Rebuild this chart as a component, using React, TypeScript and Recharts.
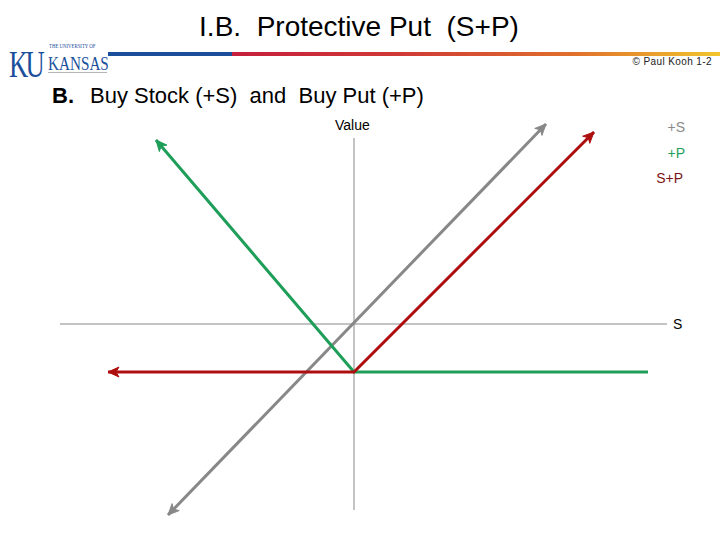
import React from "react";
import { LineChart, Line, XAxis, YAxis, ReferenceLine } from "recharts";

// Payoff lines (x = stock price relative to strike, y = value)
const stockLine = [
  { x: -18.6, y: -19.1 },
  { x: 19.2, y: 20.0 },
];
const putLine = [
  { x: -19.8, y: 18.4 },
  { x: 0, y: -4.8 },
  { x: 29.4, y: -4.8 },
];
const protectivePutLine = [
  { x: -24.6, y: -4.8 },
  { x: 0, y: -4.8 },
  { x: 24.0, y: 19.2 },
];
const axisX = [-29.4, 31.3];
const axisY = [-18.6, 18.6];

const GREY = "#888888";
const GREEN = "#1f9e5a";
const RED = "#ad0f0f";

const makeArrowDot = (series: { x: number; y: number }[], ends: number[], color: string) =>
  (props: any) => {
    const { cx, cy, index } = props;
    if (!ends.includes(index) || cx == null || cy == null) return <g key={`n-${index}`} />;
    const nb = index === 0 ? series[1] : series[index - 1];
    const cur = series[index];
    const dx = cur.x - nb.x;
    const dy = -(cur.y - nb.y);
    const len = Math.hypot(dx, dy) || 1;
    const ux = dx / len;
    const uy = dy / len;
    const L = 11;
    const W = 5;
    const bx = cx - ux * L;
    const by = cy - uy * L;
    const px = -uy;
    const py = ux;
    const nx = cx - ux * (L - 3);
    const ny = cy - uy * (L - 3);
    const pts = `${cx},${cy} ${bx + px * W},${by + py * W} ${nx},${ny} ${bx - px * W},${by - py * W}`;
    return <polygon key={`a-${index}`} points={pts} fill={color} stroke={color} strokeWidth={1} />;
  };

const txt = (style: React.CSSProperties): React.CSSProperties => ({
  position: "absolute",
  fontFamily: "'Liberation Sans', Arial, sans-serif",
  whiteSpace: "pre",
  lineHeight: 1,
  ...style,
});

export default function App() {
  return (
    <div style={{ position: "absolute", left: 0, top: 0, width: 720, height: 540, background: "#fff", overflow: "hidden" }}>
      {/* Title */}
      <div style={txt({ left: 0, width: 718, top: 13, textAlign: "center", fontSize: 28, color: "#000" })}>
        I.B.  Protective Put  (S+P)
      </div>
      {/* Logo */}
      <div style={{ position: "absolute", left: 9, top: 45, fontFamily: "'Liberation Serif', 'DejaVu Serif', serif", fontSize: 38, color: "#1b4f9c", lineHeight: 1, transform: "scaleX(0.7)", transformOrigin: "left top", letterSpacing: -4 }}>
        KU
      </div>
      <div style={{ position: "absolute", left: 49, top: 43, fontFamily: "'Liberation Serif', serif", fontSize: 6, color: "#1b4f9c", lineHeight: 1, whiteSpace: "pre", transform: "scaleX(0.8)", transformOrigin: "left top" }}>
        THE UNIVERSITY OF
      </div>
      <div style={{ position: "absolute", left: 48, top: 54, fontFamily: "'Liberation Serif', serif", fontSize: 19, color: "#1b4f9c", lineHeight: 1, transform: "scaleX(0.8)", transformOrigin: "left top" }}>
        KANSAS
      </div>
      <div style={{ position: "absolute", left: 48, top: 72, width: 59, height: 1, background: "#b5b5b5" }} />
      {/* Colour bar */}
      <div style={{ position: "absolute", left: 108, top: 52, width: 124, height: 4, background: "#1b4f9c" }} />
      <div style={{ position: "absolute", left: 232, top: 52, width: 488, height: 4, background: "linear-gradient(to right, #c51f3c 0%, #cf3a36 35%, #e0702c 70%, #f2c62c 100%)" }} />
      <div style={txt({ right: 8, top: 57, fontSize: 10, letterSpacing: 0.4, color: "#222" })}>© Paul Kooh 1-2</div>
      {/* Subtitle */}
      <div style={txt({ left: 52, top: 85, fontSize: 22, fontWeight: "bold", color: "#000" })}>B.</div>
      <div style={txt({ left: 90, top: 85, fontSize: 22, color: "#000" })}>Buy Stock (+S)  and  Buy Put (+P)</div>

      <div style={{ position: "absolute", left: 0, top: 0 }}>
        <LineChart width={720} height={540} margin={{ top: 0, right: 0, bottom: 0, left: 0 }}>
          <XAxis type="number" dataKey="x" domain={[-35.4, 36.6]} allowDataOverflow hide />
          <YAxis type="number" dataKey="y" domain={[-21.6, 32.4]} allowDataOverflow hide />
          <ReferenceLine
            segment={[{ x: axisX[0], y: 0 }, { x: axisX[1], y: 0 }]}
            stroke={GREY}
            strokeWidth={1}
            ifOverflow="visible"
          />
          <ReferenceLine
            segment={[{ x: 0, y: axisY[0] }, { x: 0, y: axisY[1] }]}
            stroke={GREY}
            strokeWidth={1}
            ifOverflow="visible"
          />
          <Line
            data={stockLine}
            dataKey="y"
            type="linear"
            stroke={GREY}
            strokeWidth={3}
            isAnimationActive={false}
            dot={makeArrowDot(stockLine, [0, stockLine.length - 1], GREY)}
            activeDot={false}
          />
          <Line
            data={putLine}
            dataKey="y"
            type="linear"
            stroke={GREEN}
            strokeWidth={3}
            isAnimationActive={false}
            dot={makeArrowDot(putLine, [0], GREEN)}
            activeDot={false}
          />
          <Line
            data={protectivePutLine}
            dataKey="y"
            type="linear"
            stroke={RED}
            strokeWidth={3}
            isAnimationActive={false}
            dot={makeArrowDot(protectivePutLine, [0, protectivePutLine.length - 1], RED)}
            activeDot={false}
          />
        </LineChart>
      </div>

      {/* Axis labels and legend */}
      <div style={txt({ left: 335, top: 118, fontSize: 14, color: "#000" })}>Value</div>
      <div style={txt({ left: 673, top: 317, fontSize: 14, color: "#000" })}>S</div>
      <div style={txt({ right: 35, top: 120, fontSize: 14, color: "#8a8a8a" })}>+S</div>
      <div style={txt({ right: 35, top: 146, fontSize: 14, color: GREEN })}>+P</div>
      <div style={txt({ right: 37, top: 171, fontSize: 14, color: "#7a1515" })}>S+P</div>
    </div>
  );
}
